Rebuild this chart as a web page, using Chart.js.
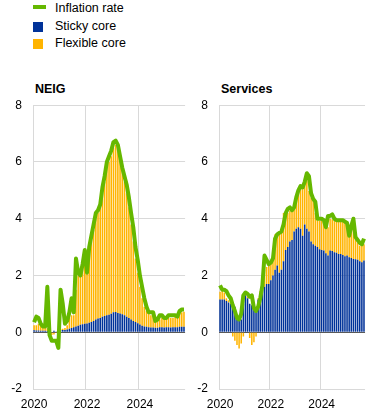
<!DOCTYPE html>
<html>
<head>
<meta charset="utf-8">
<script src="https://cdn.jsdelivr.net/npm/chart.js@4.4.1/dist/chart.umd.min.js"></script>
<style>
  html, body { margin: 0; padding: 0; background: #fff; }
  body { width: 372px; height: 416px; position: relative; overflow: hidden;
         font-family: "Liberation Sans", Arial, sans-serif; color: #000; }
  .lg-text { position: absolute; left: 55px; font-size: 12.5px; line-height: 12.5px; white-space: nowrap; }
  .sw { position: absolute; }
  .title { position: absolute; font-size: 12.5px; font-weight: bold; line-height: 12px; }
  canvas { position: absolute; }
</style>
</head>
<body>
<div class="sw" style="left:33px;top:5px;width:13px;height:4px;background:#65b800"></div>
<div class="lg-text" style="top:2.3px">Inflation rate</div>
<div class="sw" style="left:33px;top:22px;width:10px;height:10px;background:#003299"></div>
<div class="lg-text" style="top:20px">Sticky core</div>
<div class="sw" style="left:33px;top:39px;width:10px;height:10px;background:#ffb400"></div>
<div class="lg-text" style="top:36.7px">Flexible core</div>

<div class="title" style="left:35px;top:83.4px">NEIG</div>
<div class="title" style="left:221px;top:83.4px">Services</div>

<canvas id="neig" width="192" height="329" style="left:0;top:87px;width:192px;height:329px"></canvas>
<canvas id="serv" width="182" height="329" style="left:190px;top:87px;width:182px;height:329px"></canvas>

<script>
// ---- data ----
const MONTHS = [
 "2020-01","2020-02","2020-03","2020-04","2020-05","2020-06","2020-07","2020-08","2020-09","2020-10","2020-11","2020-12",
 "2021-01","2021-02","2021-03","2021-04","2021-05","2021-06","2021-07","2021-08","2021-09","2021-10","2021-11","2021-12",
 "2022-01","2022-02","2022-03","2022-04","2022-05","2022-06","2022-07","2022-08","2022-09","2022-10","2022-11","2022-12",
 "2023-01","2023-02","2023-03","2023-04","2023-05","2023-06","2023-07","2023-08","2023-09","2023-10","2023-11","2023-12",
 "2024-01","2024-02","2024-03","2024-04","2024-05","2024-06","2024-07","2024-08","2024-09","2024-10","2024-11","2024-12",
 "2025-01","2025-02","2025-03","2025-04","2025-05","2025-06","2025-07","2025-08","2025-09"
];
const YEAR_TICKS = ["2020", "2022", "2024"];
const Y_MIN = -2, Y_MAX = 8, Y_STEP = 2;

// NEIG panel
const NEIG_INFLATION = [
 0.35,0.55,0.5,0.3,0.2,0.2,1.6,-0.1,-0.3,-0.3,-0.3,-0.55,
 1.5,1.0,0.3,0.4,0.7,1.2,0.7,2.6,2.1,2.0,2.4,2.9,
 2.1,3.0,3.4,3.8,4.2,4.3,4.5,5.1,5.5,6.0,6.2,6.4,
 6.7,6.75,6.6,6.2,5.8,5.5,5.2,4.75,4.2,3.7,3.0,2.55,
 2.0,1.6,1.2,0.9,0.7,0.7,0.7,0.4,0.45,0.6,0.6,0.5,
 0.5,0.6,0.6,0.6,0.6,0.55,0.75,0.8,0.8
];
const NEIG_STICKY = [
 0.07,0.06,0.06,0.05,0.05,0.05,0.04,0.03,0.02,0.05,0.03,0.02,
 0.08,0.08,0.08,0.1,0.12,0.15,0.18,0.2,0.23,0.26,0.28,0.3,
 0.31,0.33,0.36,0.4,0.45,0.48,0.5,0.55,0.57,0.6,0.62,0.65,
 0.7,0.71,0.68,0.66,0.63,0.6,0.55,0.5,0.45,0.4,0.36,0.32,
 0.27,0.23,0.2,0.19,0.18,0.17,0.17,0.16,0.16,0.18,0.18,0.17,
 0.18,0.18,0.17,0.18,0.18,0.18,0.19,0.19,0.19
];
const NEIG_FLEXIBLE = [
 0.18,0.19,0.24,0.2,0.15,0.1,0.1,0.05,-0.1,-0.08,-0.03,-0.05,
 0.03,0.04,0.07,0.15,0.38,0.45,0.42,1.3,1.77,1.74,2.02,2.3,
 1.99,2.47,2.84,3.2,3.55,3.72,3.9,4.35,4.73,5.2,5.38,5.55,
 5.8,5.89,5.82,5.44,5.07,4.7,4.35,3.9,3.35,2.8,2.24,1.78,
 1.33,0.97,0.7,0.56,0.47,0.43,0.43,0.24,0.24,0.27,0.32,0.33,
 0.32,0.32,0.33,0.32,0.37,0.32,0.51,0.51,0.53
];

// Services panel
const SERV_INFLATION = [
 1.65,1.5,1.5,1.45,1.3,1.2,0.95,0.75,0.5,0.45,0.65,1.3,
 1.4,1.35,1.25,1.3,0.85,0.75,0.9,1.2,1.65,2.7,2.55,2.4,
 2.45,2.6,3.3,3.45,3.5,3.55,3.8,4.2,4.35,4.4,4.3,4.4,
 4.75,5.0,5.15,5.1,5.3,5.6,5.5,4.9,4.7,4.6,4.0,4.0,
 4.0,3.95,3.7,4.1,4.1,4.15,4.0,3.95,3.95,3.95,3.95,3.9,
 3.85,3.4,3.75,4.0,3.35,3.25,3.15,3.1,3.3
];
const SERV_STICKY = [
 1.15,1.15,1.15,1.1,1.05,1.0,0.95,0.9,0.6,0.4,0.45,1.0,
 1.3,1.2,1.0,0.95,0.85,0.85,1.15,1.35,1.5,1.6,1.7,1.7,
 1.83,2.0,2.2,2.35,2.1,2.2,2.5,2.9,3.0,3.2,3.25,3.55,
 3.65,3.7,3.65,3.4,3.8,3.65,3.55,3.2,3.1,3.05,3.0,2.92,
 2.9,2.88,2.78,2.7,2.88,2.86,2.82,2.8,2.76,2.76,2.72,2.68,
 2.7,2.64,2.62,2.58,2.57,2.55,2.5,2.47,2.53
];
const SERV_FLEXIBLE = [
 0.28,0.3,0.25,0.1,0.08,0.02,-0.15,-0.3,-0.45,-0.57,-0.4,-0.15,
 0.1,0.05,-0.2,-0.45,-0.35,-0.15,0.05,0.1,0.25,0.6,0.6,0.65,
 0.65,0.8,1.25,1.1,1.4,1.32,1.7,1.3,1.2,1.08,1.03,0.85,
 1.05,1.34,1.4,1.64,1.47,1.86,1.43,1.55,1.65,1.15,0.95,1.01,
 1.03,1.05,0.97,1.0,1.12,1.12,1.13,1.18,1.14,1.14,1.18,1.2,
 1.05,0.76,1.03,1.17,0.73,0.6,0.55,0.58,0.57
];

// ---- styles ----
const GREEN = "#65b800", BLUE = "#003299", YELLOW = "#ffb400";
const GRID = "#d9d9d9", ZERO = "#595959";

Chart.defaults.font.family = '"Liberation Sans", Arial, sans-serif';
Chart.defaults.font.size = 12;
Chart.defaults.color = "#000";

function makeChart(id, infl, sticky, flex, yAxisWidth, padRight) {
  return new Chart(document.getElementById(id), {
    type: "bar",
    data: {
      labels: MONTHS,
      datasets: [
        { type: "line", label: "Inflation rate", data: infl, borderColor: GREEN,
          backgroundColor: GREEN, borderWidth: 4, pointRadius: 0, tension: 0,
          borderJoinStyle: "round", stack: "infl", order: 0 },
        { label: "Sticky core", data: sticky, backgroundColor: BLUE, stack: "core",
          order: 1, categoryPercentage: 1.0, barPercentage: 0.72 },
        { label: "Flexible core", data: flex, backgroundColor: YELLOW, stack: "core",
          order: 2, categoryPercentage: 1.0, barPercentage: 0.72 }
      ]
    },
    options: {
      responsive: false,
      animation: false,
      events: [],
      layout: { padding: { top: 8, right: padRight, left: 0, bottom: 0 } },
      plugins: { legend: { display: false }, tooltip: { enabled: false }, title: { display: false } },
      scales: {
        x: {
          stacked: true,
          offset: true,
          border: { display: false },
          grid: {
            offset: true,
            drawTicks: false,
            color: (ctx) => (ctx.index % 24 === 0 && ctx.index < MONTHS.length) ? GRID : "rgba(0,0,0,0)",
            lineWidth: 1
          },
          ticks: {
            autoSkip: false, maxRotation: 0, minRotation: 0, padding: 8,
            callback: function (v, i) {
              const m = MONTHS[i];
              const y = m.slice(0, 4);
              return (m.endsWith("-01") && YEAR_TICKS.includes(y)) ? y : "";
            }
          },
          afterFit: (s) => { s.height = 27; }
        },
        y: {
          stacked: true,
          min: Y_MIN, max: Y_MAX,
          border: { display: false },
          grid: {
            drawTicks: false,
            color: (ctx) => (ctx.tick && ctx.tick.value === 0) ? ZERO : GRID,
            lineWidth: 1
          },
          ticks: { stepSize: Y_STEP, padding: 11 },
          afterFit: (s) => { s.width = yAxisWidth; }
        }
      }
    }
  });
}

makeChart("neig", NEIG_INFLATION, NEIG_STICKY, NEIG_FLEXIBLE, 33, 3);
makeChart("serv", SERV_INFLATION, SERV_STICKY, SERV_FLEXIBLE, 29, 2);
</script>
</body>
</html>
